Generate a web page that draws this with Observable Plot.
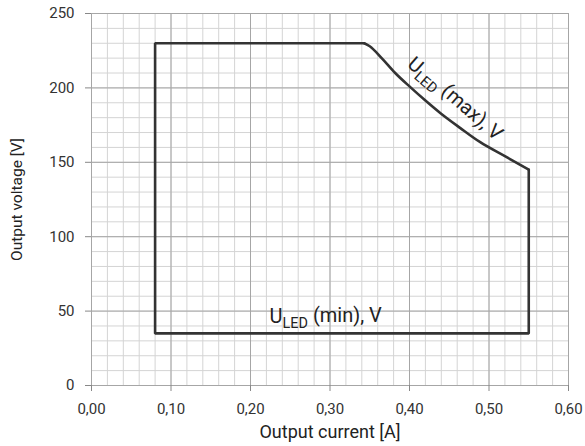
<!DOCTYPE html>
<html>
<head>
<meta charset="utf-8">
<script src="https://cdn.jsdelivr.net/npm/d3@7"></script>
<script src="https://cdn.jsdelivr.net/npm/@observablehq/plot@0.6"></script>
<style>
  body { margin: 0; background: #fff; }
  #chart svg { font-family: Roboto, "DejaVu Sans", sans-serif; }
</style>
</head>
<body>
<div id="chart"></div>
<script>
// Operating window outline (Output current [A], Output voltage [V])
const boxCurrent = [0.343, 0.08, 0.08, 0.550, 0.550];
const boxVoltage = [230, 230, 35, 35, 145];
// U_LED (max) curve
const maxCurrent = [0.343, 0.350, 0.365, 0.382, 0.401, 0.420, 0.439, 0.464, 0.489, 0.520, 0.550];
const maxVoltage = [230, 228, 220, 210, 200.5, 191.5, 183, 173, 163.5, 154.1, 145];

const xTicks = [0, 0.1, 0.2, 0.3, 0.4, 0.5, 0.6];
const yTicks = [0, 50, 100, 150, 200, 250];
const xMinor = [0, 0.02, 0.04, 0.06, 0.08, 0.1, 0.12, 0.14, 0.16, 0.18, 0.2, 0.22, 0.24, 0.26, 0.28, 0.3, 0.32, 0.34, 0.36, 0.38, 0.4, 0.42, 0.44, 0.46, 0.48, 0.5, 0.52, 0.54, 0.56, 0.58, 0.6];
const yMinor = [0, 10, 20, 30, 40, 50, 60, 70, 80, 90, 100, 110, 120, 130, 140, 150, 160, 170, 180, 190, 200, 210, 220, 230, 240, 250];

const labelMax = {x: 0.4515, y: 189, main: "U", sub: "LED", rest: " (max), V"};
const labelMin = {x: 0.224, y: 41.7, main: "U", sub: "LED", rest: " (min), V"};

const boxPts = boxCurrent.map((c, i) => ({c, v: boxVoltage[i]}));
const maxPts = maxCurrent.map((c, i) => ({c, v: maxVoltage[i]}));
const fmt = d => d.toFixed(2).replace(".", ",");

const plot = Plot.plot({
  width: 585,
  height: 446,
  marginLeft: 91,
  marginRight: 17,
  marginTop: 13,
  marginBottom: 61,
  style: {fontSize: "15px", color: "#333"},
  x: {domain: [0, 0.6]},
  y: {domain: [0, 250]},
  marks: [
    Plot.ruleX(xMinor, {stroke: "#d4d4d4", strokeWidth: 1}),
    Plot.ruleY(yMinor, {stroke: "#d4d4d4", strokeWidth: 1}),
    Plot.ruleX(xTicks, {stroke: "#a6a6a6", strokeWidth: 1}),
    Plot.ruleY(yTicks, {stroke: "#a6a6a6", strokeWidth: 1}),
    Plot.axisX({ticks: xTicks, tickFormat: fmt, tickSize: 6, tickPadding: 12, stroke: "#888", fill: "#333",
      label: null, fontSize: 15}),
    Plot.axisX({ticks: [], label: "Output current [A]", labelAnchor: "center", labelArrow: "none",
      labelOffset: 52, fontSize: 18, fill: "#222"}),
    Plot.axisY({ticks: yTicks, tickSize: 6, tickPadding: 11, stroke: "#888", fill: "#333",
      label: null, fontSize: 15}),
    Plot.axisY({ticks: [], label: "Output voltage [V]", labelAnchor: "center", labelArrow: "none",
      labelOffset: 81, fontSize: 15.5, fill: "#222"}),
    Plot.line(boxPts, {x: "c", y: "v", stroke: "#333", strokeWidth: 2.6, curve: "linear", strokeLinejoin: "miter"}),
    Plot.line(maxPts, {x: "c", y: "v", stroke: "#333", strokeWidth: 2.6, curve: "monotone-x"}),
    Plot.text([labelMax], {x: "x", y: "y", text: d => d.main, rotate: 41, textAnchor: "middle",
      lineAnchor: "bottom", fontSize: 20, fill: "#222", className: "umax"}),
    Plot.text([labelMin], {x: "x", y: "y", text: d => d.main, textAnchor: "start",
      lineAnchor: "bottom", fontSize: 20, fill: "#222", className: "umin"})
  ]
});

// add subscript tspans
function sub(label, cls) {
  d3.select(plot).selectAll(`.${cls} text, text.${cls}`).each(function() {
    const t = d3.select(this);
    t.text(null);
    t.append("tspan").text(label.main);
    t.append("tspan").attr("font-size", "0.72em").attr("dy", "0.3em").text(label.sub);
    t.append("tspan").attr("dy", "-0.3em").text(label.rest);
  });
}
sub(labelMax, "umax");
sub(labelMin, "umin");

document.getElementById("chart").appendChild(plot);
</script>
</body>
</html>
